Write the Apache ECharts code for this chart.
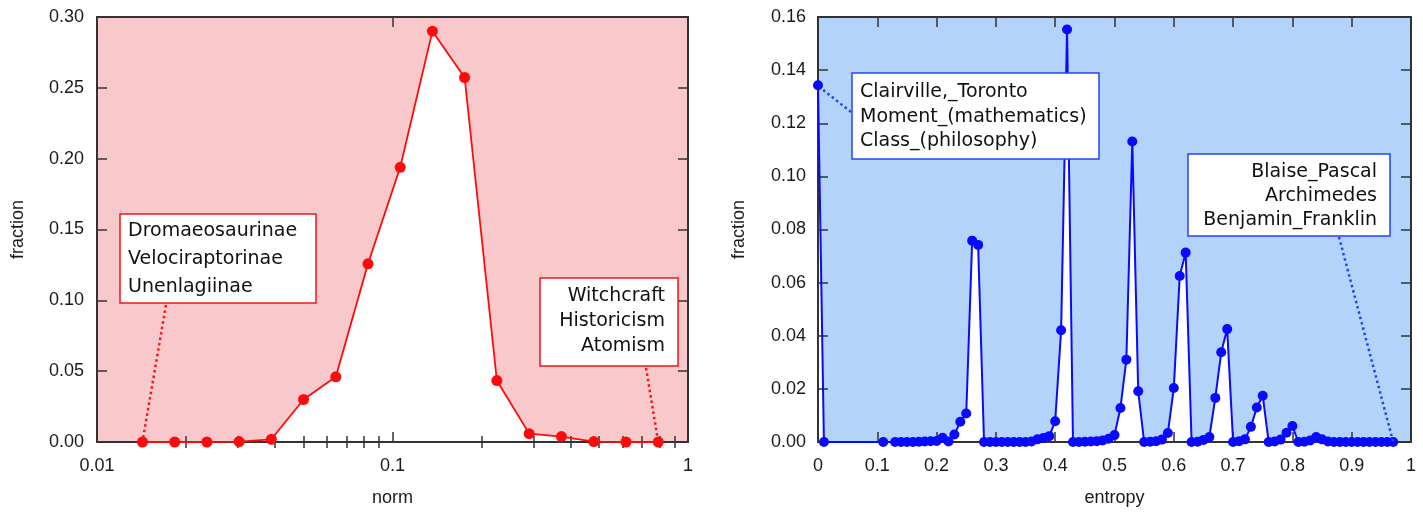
<!DOCTYPE html>
<html>
<head>
<meta charset="utf-8">
<script src="https://cdn.jsdelivr.net/npm/echarts@6/dist/echarts.min.js"></script>
<style>
  html, body { margin: 0; padding: 0; background: #fff; }
  #chart { width: 1423px; height: 512px; }
</style>
</head>
<body>
<div id="chart"></div>
<script>
// left panel: fraction vs norm (log x)
const normX = [0.01425, 0.01832, 0.02355, 0.03027, 0.0389, 0.0500, 0.0643, 0.0826, 0.1062,
    0.1365, 0.1754, 0.2255, 0.290, 0.373, 0.480, 0.617, 0.793];
const normFraction = [0, 0, 0, 0.0003, 0.0019, 0.030, 0.046, 0.1258, 0.1939,
    0.290, 0.2573, 0.0434, 0.0059, 0.0038, 0.0003, 0, 0];

// right panel: fraction vs entropy
const entropyX = [0, 0.01, 0.11,
    0.13, 0.14, 0.15, 0.16, 0.17, 0.18, 0.19, 0.20, 0.21, 0.22, 0.23, 0.24, 0.25, 0.26, 0.27, 0.28, 0.29,
    0.30, 0.31, 0.32, 0.33, 0.34, 0.35, 0.36, 0.37, 0.38, 0.39, 0.40, 0.41, 0.42, 0.43, 0.44, 0.45, 0.46,
    0.47, 0.48, 0.49, 0.50, 0.51, 0.52, 0.53, 0.54, 0.55, 0.56, 0.57, 0.58, 0.59, 0.60, 0.61, 0.62, 0.63,
    0.64, 0.65, 0.66, 0.67, 0.68, 0.69, 0.70, 0.71, 0.72, 0.73, 0.74, 0.75, 0.76, 0.77, 0.78, 0.79, 0.80,
    0.81, 0.82, 0.83, 0.84, 0.85, 0.86, 0.87, 0.88, 0.89, 0.90, 0.91, 0.92, 0.93, 0.94, 0.95, 0.96, 0.97];
const entropyFraction = [0.1343, 0, 0,
    0, 0, 0, 0, 0.0001, 0.0002, 0.0003, 0.0004, 0.0016, 0.0002, 0.0028, 0.0076, 0.0107, 0.0758, 0.0742, 0, 0,
    0, 0, 0, 0, 0, 0, 0.0002, 0.0010, 0.0015, 0.0022, 0.0078, 0.0421, 0.1553, 0, 0, 0.0001, 0.0002,
    0.0003, 0.0006, 0.0012, 0.0026, 0.0128, 0.0310, 0.1131, 0.0191, 0, 0.0001, 0.0003, 0.0009, 0.0034, 0.0203, 0.0625, 0.0713, 0,
    0.0001, 0.0008, 0.0019, 0.0166, 0.0338, 0.0425, 0, 0.0003, 0.0010, 0.0057, 0.0130, 0.0174, 0, 0.0002, 0.0009, 0.0035, 0.0060,
    0, 0.0001, 0.0006, 0.0019, 0.0010, 0.0002, 0, 0, 0, 0, 0, 0, 0, 0, 0, 0, 0];

// tick values
const normMinorTicks = [0.02, 0.03, 0.04, 0.05, 0.06, 0.07, 0.08, 0.09, 0.2, 0.3, 0.4, 0.5, 0.6, 0.7, 0.8, 0.9];
const leftYTicks = { min: 0, max: 0.30, interval: 0.05 };
const rightYTicks = { min: 0, max: 0.16, interval: 0.02 };
const rightXTicks = { min: 0, max: 1, interval: 0.1 };

// annotation labels
const leftLowLabels = ['Dromaeosaurinae', 'Velociraptorinae', 'Unenlagiinae'];
const leftHighLabels = ['Witchcraft', 'Historicism', 'Atomism'];
const rightLowLabels = ['Clairville,_Toronto', 'Moment_(mathematics)', 'Class_(philosophy)'];
const rightHighLabels = ['Blaise_Pascal', 'Archimedes', 'Benjamin_Franklin'];

const RED = '#ff0a0a';
const BLUE = '#0a0aff';
const AXIS = '#333';
const LABEL_FONT = 'Liberation Sans';
const NOTE_FONT = 'DejaVu Sans';

const zip = (xs, ys) => xs.map((x, i) => [x, ys[i]]);

const labelStyle = { color: '#1a1a1a', fontFamily: LABEL_FONT, fontSize: 18 };
const nameStyle = { color: '#1a1a1a', fontFamily: LABEL_FONT, fontSize: 18 };

function frameAxis(extra) {
    return Object.assign({
        z: 3,
        axisLine: { show: true, onZero: false, lineStyle: { color: AXIS, width: 2 } },
        axisTick: { show: true, inside: true, length: 10, lineStyle: { color: AXIS, width: 1.5 } },
        axisLabel: { show: false },
        splitLine: { show: false }
    }, extra);
}

const chart = echarts.init(document.getElementById('chart'), null, { renderer: 'canvas' });

chart.setOption({
    animation: false,
    grid: [
        { left: 97, right: 735, top: 17, bottom: 69, show: true, backgroundColor: '#f8c8cb', borderWidth: 0 },
        { left: 818, right: 12, top: 17, bottom: 69, show: true, backgroundColor: '#b3d3fb', borderWidth: 0 }
    ],
    xAxis: [
        frameAxis({
            gridIndex: 0, type: 'log', logBase: 10, min: 0.01, max: 1, position: 'bottom',
            axisLabel: Object.assign({ show: true, margin: 15, formatter: v => String(v) }, labelStyle),
            name: 'norm', nameLocation: 'middle', nameGap: 47, nameTextStyle: nameStyle
        }),
        frameAxis({
            gridIndex: 0, type: 'log', logBase: 10, min: 0.01, max: 1, position: 'bottom',
            axisLine: { show: false },
            axisTick: { show: true, inside: true, length: 6, customValues: normMinorTicks, lineStyle: { color: AXIS, width: 1.5 } }
        }),
        frameAxis({ gridIndex: 0, type: 'log', logBase: 10, min: 0.01, max: 1, position: 'top' }),
        frameAxis({
            gridIndex: 0, type: 'log', logBase: 10, min: 0.01, max: 1, position: 'top',
            axisLine: { show: false },
            axisTick: { show: true, inside: true, length: 6, customValues: normMinorTicks, lineStyle: { color: AXIS, width: 1.5 } }
        }),
        frameAxis({
            gridIndex: 1, type: 'value', min: rightXTicks.min, max: rightXTicks.max, interval: rightXTicks.interval,
            position: 'bottom',
            axisLabel: Object.assign({ show: true, margin: 15 }, labelStyle),
            name: 'entropy', nameLocation: 'middle', nameGap: 47, nameTextStyle: nameStyle
        }),
        frameAxis({
            gridIndex: 1, type: 'value', min: rightXTicks.min, max: rightXTicks.max, interval: rightXTicks.interval,
            position: 'top'
        })
    ],
    yAxis: [
        frameAxis({
            gridIndex: 0, type: 'value', min: leftYTicks.min, max: leftYTicks.max, interval: leftYTicks.interval,
            position: 'left',
            axisLabel: Object.assign({ show: true, margin: 13, formatter: v => v.toFixed(2) }, labelStyle),
            name: 'fraction', nameLocation: 'middle', nameGap: 70, nameTextStyle: nameStyle
        }),
        frameAxis({
            gridIndex: 0, type: 'value', min: leftYTicks.min, max: leftYTicks.max, interval: leftYTicks.interval,
            position: 'right'
        }),
        frameAxis({
            gridIndex: 1, type: 'value', min: rightYTicks.min, max: rightYTicks.max, interval: rightYTicks.interval,
            position: 'left',
            axisLabel: Object.assign({ show: true, margin: 12, formatter: v => v.toFixed(2) }, labelStyle),
            name: 'fraction', nameLocation: 'middle', nameGap: 70, nameTextStyle: nameStyle
        }),
        frameAxis({
            gridIndex: 1, type: 'value', min: rightYTicks.min, max: rightYTicks.max, interval: rightYTicks.interval,
            position: 'right'
        })
    ],
    series: [
        // white fill under each curve
        {
            type: 'line', xAxisIndex: 0, yAxisIndex: 0, data: zip(normX, normFraction), z: 1, silent: true,
            symbol: 'none', lineStyle: { width: 0 }, areaStyle: { color: '#fff', opacity: 1 }
        },
        {
            type: 'line', xAxisIndex: 0, yAxisIndex: 0, data: zip(normX, normFraction), z: 10,
            symbol: 'circle', symbolSize: 11, itemStyle: { color: RED }, lineStyle: { color: RED, width: 1.8 }
        },
        {
            type: 'line', xAxisIndex: 4, yAxisIndex: 2, data: zip(entropyX, entropyFraction), z: 1, silent: true,
            symbol: 'none', lineStyle: { width: 0 }, areaStyle: { color: '#fff', opacity: 1 }
        },
        {
            type: 'line', xAxisIndex: 4, yAxisIndex: 2, data: zip(entropyX, entropyFraction), z: 10,
            symbol: 'circle', symbolSize: 10, itemStyle: { color: BLUE }, lineStyle: { color: BLUE, width: 2 }
        }
    ]
});

// annotation boxes with dotted leaders to the extreme points
function note(box, lines, align, lineHeight, color, anchor, from) {
    const textX = align === 'left' ? box.x + 8 : box.x + box.w - 13;
    return [
        {
            type: 'line', z: 19, silent: true,
            shape: { x1: from[0], y1: from[1], x2: anchor[0], y2: anchor[1] },
            style: { stroke: color, lineWidth: 2.5, lineDash: [2.5, 3] }
        },
        {
            type: 'rect', z: 20, silent: true,
            shape: { x: box.x, y: box.y, width: box.w, height: box.h },
            style: { fill: '#fff', stroke: color, lineWidth: 1.5 }
        },
        {
            type: 'text', z: 21, silent: true,
            style: {
                text: lines.join('\n'), x: textX, y: box.textTop, align: align, verticalAlign: 'top',
                font: '19px "' + NOTE_FONT + '"', lineHeight: lineHeight, fill: '#111'
            }
        }
    ];
}

const pLeftLow = chart.convertToPixel({ gridIndex: 0 }, [normX[0], normFraction[0]]);
const pLeftHigh = chart.convertToPixel({ gridIndex: 0 }, [normX[normX.length - 1], normFraction[normFraction.length - 1]]);
const pRightLow = chart.convertToPixel({ gridIndex: 1 }, [entropyX[0], entropyFraction[0]]);
const pRightHigh = chart.convertToPixel({ gridIndex: 1 }, [entropyX[entropyX.length - 1], entropyFraction[entropyFraction.length - 1]]);

chart.setOption({
    graphic: [].concat(
        note({ x: 120, y: 214, w: 196, h: 89, textTop: 217 }, leftLowLabels, 'left', 28, '#f01818',
            pLeftLow, [166, 305]),
        note({ x: 540, y: 278, w: 138, h: 88, textTop: 284 }, leftHighLabels, 'right', 25, '#f01818',
            pLeftHigh, [646, 368]),
        note({ x: 852, y: 73, w: 247, h: 86, textTop: 80 }, rightLowLabels, 'left', 24.5, '#1f45fc',
            [pRightLow[0] + 3, pRightLow[1] + 3], [851, 112]),
        note({ x: 1188, y: 154, w: 202, h: 82, textTop: 160 }, rightHighLabels, 'right', 24, '#1f45fc',
            pRightHigh, [1339, 237])
    )
});

window.addEventListener('resize', () => chart.resize());
</script>
</body>
</html>
